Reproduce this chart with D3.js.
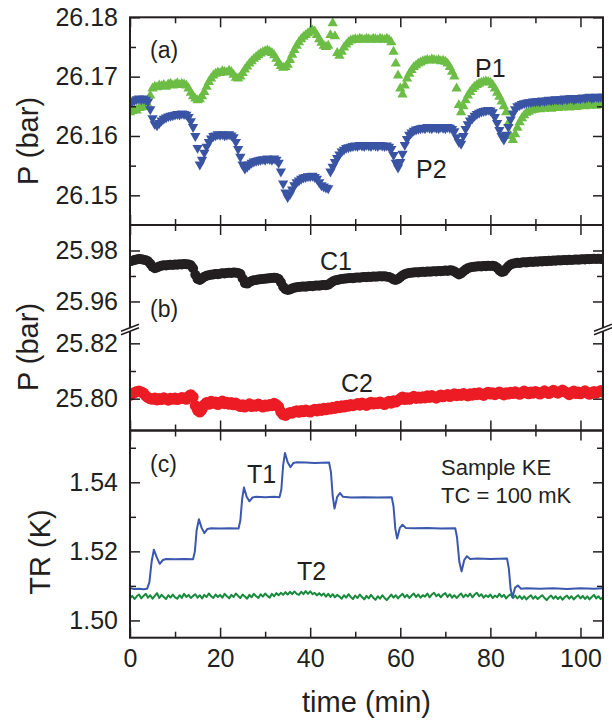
<!DOCTYPE html>
<html>
<head>
<meta charset="utf-8">
<script src="https://cdn.jsdelivr.net/npm/d3@7"></script>
<style>
  body { margin: 0; background: #fff; }
  svg { display: block; }
</style>
</head>
<body>
<script>
// ---- Data: samples every 0.5 min from 0 to 105 min (rows of 5 min) ----
const SAMPLE_STEP = 0.5;

// Panel (a): P1 pressure (bar)
const p1 = [
  26.1640, 26.1642, 26.1644, 26.1643, 26.1647, 26.1648, 26.1649, 26.1650, 26.1652, 26.1668, // 0
  26.1680, 26.1683, 26.1682, 26.1685, 26.1684, 26.1686, 26.1683, 26.1687, 26.1688, 26.1685, // 5
  26.1687, 26.1689, 26.1686, 26.1688, 26.1687, 26.1685, 26.1680, 26.1673, 26.1667, 26.1663, // 10
  26.1660, 26.1662, 26.1667, 26.1674, 26.1683, 26.1691, 26.1697, 26.1702, 26.1705, 26.1707, // 15
  26.1706, 26.1709, 26.1708, 26.1707, 26.1710, 26.1708, 26.1703, 26.1698, 26.1697, 26.1700, // 20
  26.1706, 26.1712, 26.1717, 26.1722, 26.1726, 26.1730, 26.1733, 26.1736, 26.1739, 26.1741, // 25
  26.1743, 26.1744, 26.1742, 26.1740, 26.1736, 26.1730, 26.1723, 26.1718, 26.1715, 26.1716, // 30
  26.1720, 26.1728, 26.1737, 26.1745, 26.1752, 26.1758, 26.1763, 26.1767, 26.1770, 26.1773, // 35
  26.1776, 26.1778, 26.1776, 26.1770, 26.1763, 26.1757, 26.1752, 26.1750, 26.1752, 26.1770, // 40
  26.1790, 26.1768, 26.1740, 26.1735, 26.1742, 26.1749, 26.1754, 26.1758, 26.1761, 26.1762, // 45
  26.1763, 26.1762, 26.1764, 26.1763, 26.1762, 26.1764, 26.1763, 26.1762, 26.1764, 26.1763, // 50
  26.1762, 26.1764, 26.1763, 26.1762, 26.1764, 26.1762, 26.1758, 26.1742, 26.1722, 26.1702, // 55
  26.1680, 26.1670, 26.1685, 26.1697, 26.1705, 26.1711, 26.1716, 26.1719, 26.1722, 26.1724, // 60
  26.1726, 26.1727, 26.1728, 26.1727, 26.1729, 26.1728, 26.1727, 26.1728, 26.1726, 26.1727, // 65
  26.1725, 26.1722, 26.1716, 26.1708, 26.1700, 26.1680, 26.1652, 26.1640, 26.1650, 26.1660, // 70
  26.1668, 26.1674, 26.1679, 26.1683, 26.1686, 26.1688, 26.1690, 26.1691, 26.1692, 26.1691, // 75
  26.1690, 26.1686, 26.1680, 26.1673, 26.1666, 26.1658, 26.1650, 26.1640, 26.1622, 26.1600, // 80
  26.1593, 26.1603, 26.1614, 26.1623, 26.1630, 26.1635, 26.1639, 26.1641, 26.1643, 26.1644, // 85
  26.1645, 26.1646, 26.1645, 26.1647, 26.1646, 26.1648, 26.1647, 26.1646, 26.1648, 26.1649, // 90
  26.1647, 26.1649, 26.1648, 26.1650, 26.1649, 26.1648, 26.1650, 26.1651, 26.1649, 26.1650, // 95
  26.1652, 26.1651, 26.1650, 26.1652, 26.1651, 26.1653, 26.1652, 26.1651, 26.1653, 26.1652, // 100
  26.1652
];

// Panel (a): P2 pressure (bar)
const p2 = [
  26.1655, 26.1658, 26.1660, 26.1662, 26.1663, 26.1662, 26.1663, 26.1661, 26.1658, 26.1645, // 0
  26.1630, 26.1620, 26.1618, 26.1622, 26.1626, 26.1629, 26.1631, 26.1633, 26.1634, 26.1635, // 5
  26.1636, 26.1637, 26.1636, 26.1638, 26.1637, 26.1636, 26.1632, 26.1625, 26.1615, 26.1600, // 10
  26.1580, 26.1552, 26.1560, 26.1572, 26.1582, 26.1590, 26.1596, 26.1600, 26.1601, 26.1603, // 15
  26.1602, 26.1603, 26.1601, 26.1602, 26.1603, 26.1601, 26.1598, 26.1590, 26.1578, 26.1565, // 20
  26.1552, 26.1545, 26.1548, 26.1552, 26.1555, 26.1557, 26.1558, 26.1559, 26.1560, 26.1561, // 25
  26.1560, 26.1562, 26.1561, 26.1560, 26.1562, 26.1560, 26.1555, 26.1540, 26.1520, 26.1505, // 30
  26.1497, 26.1502, 26.1510, 26.1517, 26.1522, 26.1525, 26.1528, 26.1530, 26.1531, 26.1532, // 35
  26.1532, 26.1533, 26.1531, 26.1528, 26.1522, 26.1517, 26.1515, 26.1513, 26.1512, 26.1540, // 40
  26.1548, 26.1556, 26.1563, 26.1569, 26.1574, 26.1577, 26.1580, 26.1581, 26.1582, 26.1583, // 45
  26.1584, 26.1583, 26.1585, 26.1584, 26.1583, 26.1585, 26.1584, 26.1583, 26.1585, 26.1584, // 50
  26.1583, 26.1585, 26.1584, 26.1583, 26.1584, 26.1582, 26.1578, 26.1568, 26.1555, 26.1547, // 55
  26.1556, 26.1570, 26.1585, 26.1595, 26.1602, 26.1606, 26.1609, 26.1611, 26.1612, 26.1613, // 60
  26.1614, 26.1613, 26.1615, 26.1614, 26.1613, 26.1615, 26.1614, 26.1613, 26.1615, 26.1614, // 65
  26.1613, 26.1615, 26.1614, 26.1612, 26.1608, 26.1598, 26.1590, 26.1587, 26.1600, 26.1612, // 70
  26.1620, 26.1626, 26.1630, 26.1634, 26.1637, 26.1639, 26.1641, 26.1642, 26.1643, 26.1644, // 75
  26.1643, 26.1640, 26.1632, 26.1622, 26.1610, 26.1600, 26.1594, 26.1602, 26.1615, 26.1628, // 80
  26.1638, 26.1645, 26.1650, 26.1652, 26.1654, 26.1655, 26.1656, 26.1657, 26.1657, 26.1658, // 85
  26.1658, 26.1659, 26.1658, 26.1660, 26.1659, 26.1660, 26.1661, 26.1660, 26.1661, 26.1662, // 90
  26.1661, 26.1662, 26.1661, 26.1663, 26.1662, 26.1663, 26.1664, 26.1662, 26.1663, 26.1664, // 95
  26.1663, 26.1665, 26.1664, 26.1665, 26.1666, 26.1664, 26.1665, 26.1666, 26.1665, 26.1666, // 100
  26.1666
];

// Panel (b): C1 pressure (bar), upper axis segment
const c1 = [
  25.9758, 25.9760, 25.9763, 25.9765, 25.9767, 25.9766, 25.9764, 25.9762, 25.9758, 25.9748, // 0
  25.9736, 25.9730, 25.9733, 25.9737, 25.9740, 25.9742, 25.9741, 25.9743, 25.9744, 25.9743, // 5
  25.9745, 25.9744, 25.9746, 25.9745, 25.9747, 25.9746, 25.9745, 25.9742, 25.9730, 25.9705, // 10
  25.9688, 25.9684, 25.9690, 25.9697, 25.9701, 25.9703, 25.9705, 25.9706, 25.9708, 25.9707, // 15
  25.9709, 25.9711, 25.9710, 25.9712, 25.9713, 25.9712, 25.9714, 25.9713, 25.9712, 25.9708, // 20
  25.9690, 25.9672, 25.9670, 25.9676, 25.9680, 25.9683, 25.9684, 25.9686, 25.9687, 25.9688, // 25
  25.9689, 25.9690, 25.9691, 25.9692, 25.9693, 25.9692, 25.9688, 25.9675, 25.9658, 25.9648, // 30
  25.9645, 25.9647, 25.9651, 25.9654, 25.9656, 25.9657, 25.9658, 25.9659, 25.9658, 25.9660, // 35
  25.9661, 25.9660, 25.9662, 25.9663, 25.9662, 25.9664, 25.9665, 25.9664, 25.9666, 25.9672, // 40
  25.9678, 25.9682, 25.9684, 25.9686, 25.9688, 25.9689, 25.9690, 25.9691, 25.9692, 25.9691, // 45
  25.9693, 25.9694, 25.9693, 25.9695, 25.9696, 25.9695, 25.9697, 25.9696, 25.9698, 25.9697, // 50
  25.9698, 25.9699, 25.9698, 25.9699, 25.9697, 25.9696, 25.9692, 25.9686, 25.9684, 25.9688, // 55
  25.9695, 25.9702, 25.9707, 25.9710, 25.9712, 25.9713, 25.9714, 25.9715, 25.9714, 25.9716, // 60
  25.9717, 25.9716, 25.9718, 25.9717, 25.9718, 25.9719, 25.9718, 25.9720, 25.9719, 25.9720, // 65
  25.9721, 25.9720, 25.9722, 25.9721, 25.9718, 25.9712, 25.9706, 25.9710, 25.9718, 25.9725, // 70
  25.9730, 25.9733, 25.9735, 25.9736, 25.9737, 25.9738, 25.9737, 25.9739, 25.9738, 25.9740, // 75
  25.9739, 25.9740, 25.9738, 25.9732, 25.9722, 25.9716, 25.9718, 25.9728, 25.9738, 25.9745, // 80
  25.9748, 25.9750, 25.9752, 25.9751, 25.9753, 25.9754, 25.9753, 25.9755, 25.9756, 25.9755, // 85
  25.9757, 25.9756, 25.9758, 25.9757, 25.9759, 25.9758, 25.9760, 25.9759, 25.9761, 25.9760, // 90
  25.9762, 25.9761, 25.9762, 25.9763, 25.9762, 25.9764, 25.9763, 25.9764, 25.9765, 25.9764, // 95
  25.9765, 25.9766, 25.9765, 25.9767, 25.9766, 25.9767, 25.9768, 25.9767, 25.9768, 25.9767, // 100
  25.9768
];

// Panel (b): C2 pressure (bar), lower axis segment
const c2 = [
  25.8012, 25.8018, 25.8022, 25.8026, 25.8027, 25.8024, 25.8020, 25.8010, 25.8004, 25.8000, // 0
  25.7998, 25.8002, 25.7996, 25.8000, 25.7997, 25.8003, 25.7999, 25.7995, 25.8001, 25.7998, // 5
  25.8002, 25.7997, 25.8000, 25.8004, 25.8001, 25.7998, 25.8008, 25.8014, 25.8006, 25.7975, // 10
  25.7958, 25.7952, 25.7962, 25.7978, 25.7986, 25.7980, 25.7990, 25.7984, 25.7988, 25.7979, // 15
  25.7985, 25.7991, 25.7982, 25.7987, 25.7980, 25.7986, 25.7978, 25.7984, 25.7976, 25.7972, // 20
  25.7978, 25.7970, 25.7975, 25.7981, 25.7972, 25.7977, 25.7973, 25.7980, 25.7974, 25.7970, // 25
  25.7977, 25.7973, 25.7979, 25.7975, 25.7983, 25.7978, 25.7970, 25.7952, 25.7943, 25.7940, // 30
  25.7945, 25.7950, 25.7948, 25.7953, 25.7956, 25.7951, 25.7957, 25.7953, 25.7959, 25.7955, // 35
  25.7952, 25.7958, 25.7961, 25.7956, 25.7962, 25.7958, 25.7965, 25.7960, 25.7966, 25.7963, // 40
  25.7969, 25.7965, 25.7972, 25.7968, 25.7974, 25.7970, 25.7976, 25.7973, 25.7979, 25.7975, // 45
  25.7978, 25.7982, 25.7977, 25.7984, 25.7980, 25.7976, 25.7983, 25.7987, 25.7981, 25.7985, // 50
  25.7982, 25.7988, 25.7984, 25.7979, 25.7986, 25.7990, 25.7984, 25.7992, 25.7988, 25.7994, // 55
  25.8000, 25.8006, 25.7997, 25.8003, 25.7998, 25.8004, 25.8008, 25.8001, 25.8006, 25.8002, // 60
  25.8007, 25.8003, 25.8010, 25.8005, 25.8011, 25.8006, 25.8002, 25.8009, 25.8013, 25.8007, // 65
  25.8011, 25.8015, 25.8008, 25.8013, 25.8017, 25.8011, 25.8016, 25.8012, 25.8018, 25.8014, // 70
  25.8010, 25.8017, 25.8013, 25.8019, 25.8015, 25.8021, 25.8016, 25.8012, 25.8019, 25.8023, // 75
  25.8017, 25.8021, 25.8015, 25.8020, 25.8024, 25.8018, 25.8014, 25.8021, 25.8017, 25.8023, // 80
  25.8019, 25.8025, 25.8020, 25.8016, 25.8022, 25.8027, 25.8021, 25.8018, 25.8024, 25.8020, // 85
  25.8026, 25.8021, 25.8017, 25.8023, 25.8028, 25.8022, 25.8019, 25.8025, 25.8030, 25.8024, // 90
  25.8020, 25.8026, 25.8031, 25.8025, 25.8021, 25.8015, 25.8022, 25.8027, 25.8019, 25.8024, // 95
  25.8018, 25.8023, 25.8028, 25.8021, 25.8016, 25.8022, 25.8026, 25.8020, 25.8025, 25.8029, // 100
  25.8024
];

// Panel (c): T2 temperature (K)
const t2 = [
  1.5064, 1.5071, 1.5062, 1.5070, 1.5075, 1.5064, 1.5071, 1.5077, 1.5066, 1.5073, // 0
  1.5063, 1.5071, 1.5079, 1.5065, 1.5074, 1.5068, 1.5062, 1.5073, 1.5066, 1.5075, // 5
  1.5067, 1.5063, 1.5073, 1.5065, 1.5077, 1.5068, 1.5074, 1.5065, 1.5071, 1.5076, // 10
  1.5066, 1.5073, 1.5064, 1.5074, 1.5068, 1.5078, 1.5070, 1.5065, 1.5075, 1.5068, // 15
  1.5074, 1.5066, 1.5077, 1.5070, 1.5064, 1.5074, 1.5068, 1.5078, 1.5071, 1.5065, // 20
  1.5075, 1.5069, 1.5063, 1.5074, 1.5067, 1.5077, 1.5070, 1.5065, 1.5076, 1.5069, // 25
  1.5078, 1.5071, 1.5066, 1.5077, 1.5070, 1.5079, 1.5073, 1.5080, 1.5074, 1.5082, // 30
  1.5075, 1.5083, 1.5076, 1.5084, 1.5077, 1.5074, 1.5083, 1.5076, 1.5085, 1.5077, // 35
  1.5084, 1.5076, 1.5080, 1.5073, 1.5079, 1.5072, 1.5078, 1.5069, 1.5077, 1.5068, // 40
  1.5076, 1.5067, 1.5074, 1.5069, 1.5063, 1.5073, 1.5066, 1.5076, 1.5068, 1.5062, // 45
  1.5072, 1.5065, 1.5075, 1.5068, 1.5061, 1.5071, 1.5064, 1.5074, 1.5066, 1.5060, // 50
  1.5070, 1.5063, 1.5073, 1.5065, 1.5059, 1.5067, 1.5075, 1.5066, 1.5073, 1.5064, // 55
  1.5071, 1.5077, 1.5067, 1.5074, 1.5065, 1.5072, 1.5078, 1.5068, 1.5075, 1.5066, // 60
  1.5073, 1.5069, 1.5078, 1.5067, 1.5075, 1.5080, 1.5070, 1.5076, 1.5067, 1.5075, // 65
  1.5079, 1.5068, 1.5076, 1.5066, 1.5073, 1.5065, 1.5072, 1.5078, 1.5067, 1.5075, // 70
  1.5069, 1.5078, 1.5067, 1.5075, 1.5080, 1.5070, 1.5076, 1.5066, 1.5073, 1.5068, // 75
  1.5075, 1.5065, 1.5072, 1.5067, 1.5077, 1.5068, 1.5074, 1.5064, 1.5071, 1.5076, // 80
  1.5065, 1.5072, 1.5064, 1.5071, 1.5062, 1.5070, 1.5061, 1.5068, 1.5073, 1.5063, // 85
  1.5070, 1.5062, 1.5068, 1.5073, 1.5065, 1.5059, 1.5067, 1.5072, 1.5063, 1.5070, // 90
  1.5062, 1.5069, 1.5060, 1.5067, 1.5072, 1.5063, 1.5070, 1.5061, 1.5068, 1.5073, // 95
  1.5064, 1.5071, 1.5062, 1.5070, 1.5061, 1.5068, 1.5074, 1.5064, 1.5070, 1.5062, // 100
  1.5067
];

// Panel (c): T1 temperature (K) at its own recorded times (min)
const t1Time = [
  0, 1, 2, 3, 3.8,
  4.3, 4.8, 5.3, 5.9, 6.6, 7.3, 8, 10, 12, 14,
  14.4, 14.8, 15.3, 15.9, 16.5, 17.2, 18, 20, 22, 24.1,
  24.5, 24.9, 25.3, 25.9, 26.5, 27.2, 28, 30, 32, 33.2,
  33.6, 34.0, 34.4, 35.0, 35.6, 36.3, 37, 39, 41, 44.2,
  44.6, 45.0, 45.4, 46.0, 46.6, 47.3, 49, 52, 55, 58.1,
  58.5, 58.9, 59.3, 59.9, 60.5, 61.2, 63, 66, 69, 72.2,
  72.6, 73.1, 73.6, 74.2, 74.8, 75.5, 77, 80, 83.7,
  84.1, 84.5, 84.9, 85.5, 86.1, 86.8, 88, 91, 94, 97, 100, 103, 105
];
const t1Value = [
  1.5093, 1.5091, 1.5092, 1.5090, 1.5092,
  1.5110, 1.5170, 1.5205, 1.5184, 1.5164, 1.5175, 1.5178, 1.5177, 1.5178, 1.5177,
  1.5200, 1.5262, 1.5293, 1.5268, 1.5253, 1.5265, 1.5267, 1.5266, 1.5267, 1.5266,
  1.5290, 1.5352, 1.5385, 1.5358, 1.5345, 1.5356, 1.5358, 1.5357, 1.5358, 1.5357,
  1.5380, 1.5450, 1.5485, 1.5458, 1.5444, 1.5456, 1.5458, 1.5457, 1.5456, 1.5457,
  1.5430, 1.5360, 1.5324, 1.5358, 1.5369, 1.5358, 1.5356, 1.5357, 1.5356, 1.5357,
  1.5330, 1.5265, 1.5237, 1.5268, 1.5277, 1.5268, 1.5267, 1.5268, 1.5266, 1.5267,
  1.5240, 1.5170, 1.5142, 1.5175, 1.5186, 1.5178, 1.5179, 1.5178, 1.5179,
  1.5150, 1.5090, 1.5068, 1.5095, 1.5101, 1.5092, 1.5093, 1.5092, 1.5093, 1.5091, 1.5093, 1.5092, 1.5093
];

// Axis ticks
const xMajor = [0, 20, 40, 60, 80, 100];
const xMinor = [10, 30, 50, 70, 90];
const aMajor = [26.15, 26.16, 26.17, 26.18];
const aMinor = [26.155, 26.165, 26.175];
const bUpperMajor = [25.96, 25.98];
const bUpperMinor = [25.97];
const bLowerMajor = [25.80, 25.82];
const bLowerMinor = [25.81];
const cMajor = [1.50, 1.52, 1.54];
const cMinor = [1.51, 1.53, 1.55];

// ---- Layout ----
const INK = '#231f20';
const FONT = '"Liberation Sans", Arial, Helvetica, sans-serif';
const COL = { p1: '#6cbd45', p2: '#3a54a4', c1: '#231f20', c2: '#ec1c24', t1: '#3a58ad', t2: '#178a3b' };

const X0 = 130, X1 = 603;
const PA = { top: 17.3, bottom: 225 };
const PB = { top: 225, split: 329.5, bottom: 430.5 };
const PC = { top: 430.5, bottom: 637.7 };

const x = d3.scaleLinear().domain([0, 105]).range([X0, X1]);
const yA = d3.scaleLinear().domain([26.145, 26.18]).range([PA.bottom, PA.top]);
const yBu = d3.scaleLinear().domain([25.949, 25.99]).range([PB.split, PB.top]);
const yBl = d3.scaleLinear().domain([25.7885, 25.825]).range([PB.bottom, PB.split]);
const yC = d3.scaleLinear().domain([1.495, 1.555]).range([PC.bottom, PC.top]);

const timeOf = (_, i) => i * SAMPLE_STEP;

const svg = d3.select('body').append('svg').attr('width', 612).attr('height', 720)
  .attr('font-family', FONT);

const defs = svg.append('defs');
function clip(id, top, bottom) {
  defs.append('clipPath').attr('id', id).append('rect')
    .attr('x', X0).attr('y', top).attr('width', X1 - X0).attr('height', bottom - top);
  return `url(#${id})`;
}
const clipA = clip('clip-a', PA.top, PA.bottom);
const clipBu = clip('clip-bu', PB.top, PB.split);
const clipBl = clip('clip-bl', PB.split, PB.bottom);
const clipC = clip('clip-c', PC.top, PC.bottom);

// ---- Panel (a): triangles ----
const tri = d3.symbol().type(d3.symbolTriangle).size(46);
function triangles(values, color, down) {
  svg.append('g').attr('clip-path', clipA).selectAll('path')
    .data(values).join('path')
    .attr('d', tri)
    .attr('fill', color)
    .attr('transform', (d, i) => `translate(${x(timeOf(d, i))},${yA(d)})${down ? ' rotate(180)' : ''}`);
}
triangles(p1, COL.p1, false);
triangles(p2, COL.p2, true);

// ---- Panel (b): circles on a broken axis ----
function dots(values, yScale, clipRef, color, r) {
  svg.append('g').attr('clip-path', clipRef).selectAll('circle')
    .data(values).join('circle')
    .attr('cx', (d, i) => x(timeOf(d, i)))
    .attr('cy', d => yScale(d))
    .attr('r', r)
    .attr('fill', color);
}
dots(c1, yBu, clipBu, COL.c1, 5);
dots(c2, yBl, clipBl, COL.c2, 5.6);

// ---- Panel (c): lines ----
const t1Line = d3.line().x((d, i) => x(t1Time[i])).y(d => yC(d));
const t2Line = d3.line().x((d, i) => x(timeOf(d, i))).y(d => yC(d));
const gC = svg.append('g').attr('clip-path', clipC);
gC.append('path').attr('d', t2Line(t2)).attr('fill', 'none')
  .attr('stroke', COL.t2).attr('stroke-width', 2).attr('stroke-linejoin', 'round');
gC.append('path').attr('d', t1Line(t1Value)).attr('fill', 'none')
  .attr('stroke', COL.t1).attr('stroke-width', 2).attr('stroke-linejoin', 'round');

// ---- Frames, ticks, labels ----
function axisLayer(axis, tx, ty) {
  const g = svg.append('g').attr('transform', `translate(${tx},${ty})`).call(axis)
    .attr('font-family', FONT).attr('font-size', 25).style('color', INK);
  g.select('.domain').remove();
  g.selectAll('.tick line').attr('stroke-width', 1.5);
  return g;
}
const noLabel = () => '';
function xEdges(top, bottom, withLabels) {
  axisLayer(d3.axisTop(x).tickValues(xMajor).tickSizeInner(-10).tickSizeOuter(0).tickFormat(noLabel), 0, top);
  axisLayer(d3.axisTop(x).tickValues(xMinor).tickSizeInner(-6).tickSizeOuter(0).tickFormat(noLabel), 0, top);
  axisLayer(d3.axisBottom(x).tickValues(xMajor).tickSizeInner(-10).tickSizeOuter(0).tickPadding(12)
    .tickFormat(withLabels ? d3.format('d') : noLabel), 0, bottom);
  axisLayer(d3.axisBottom(x).tickValues(xMinor).tickSizeInner(-6).tickSizeOuter(0).tickFormat(noLabel), 0, bottom);
}
function yEdges(scale, major, minor) {
  const fmt = d3.format('.2f');
  axisLayer(d3.axisLeft(scale).tickValues(major).tickSizeInner(-10).tickSizeOuter(0).tickPadding(12).tickFormat(fmt), X0, 0);
  axisLayer(d3.axisLeft(scale).tickValues(minor).tickSizeInner(-6).tickSizeOuter(0).tickFormat(noLabel), X0, 0);
  axisLayer(d3.axisRight(scale).tickValues(major).tickSizeInner(-10).tickSizeOuter(0).tickFormat(noLabel), X1, 0);
  axisLayer(d3.axisRight(scale).tickValues(minor).tickSizeInner(-6).tickSizeOuter(0).tickFormat(noLabel), X1, 0);
}
function frame(top, bottom) {
  svg.append('rect').attr('x', X0).attr('y', top).attr('width', X1 - X0).attr('height', bottom - top)
    .attr('fill', 'none').attr('stroke', INK).attr('stroke-width', 2);
}

frame(PA.top, PA.bottom);
frame(PB.top, PB.bottom);
frame(PC.top, PC.bottom);
xEdges(PA.top, PA.bottom, false);
xEdges(PB.top, PB.bottom, false);
xEdges(PC.top, PC.bottom, true);
yEdges(yA, aMajor, aMinor);
yEdges(yBu, bUpperMajor, bUpperMinor);
yEdges(yBl, bLowerMajor, bLowerMinor);
yEdges(yC, cMajor, cMinor);

// Axis-break marks on the panel (b) side frames
function breakMark(cx, cy) {
  const dx = 9, dy = 3.5, gap = 1.8;
  const l1 = [[cx - dx, cy - gap + dy], [cx + dx, cy - gap - dy]];
  const l2 = [[cx - dx, cy + gap + dy], [cx + dx, cy + gap - dy]];
  svg.append('polygon').attr('points', [l1[0], l1[1], l2[1], l2[0]].map(p => p.join(',')).join(' '))
    .attr('fill', '#fff');
  [l1, l2].forEach(l => svg.append('line')
    .attr('x1', l[0][0]).attr('y1', l[0][1]).attr('x2', l[1][0]).attr('y2', l[1][1])
    .attr('stroke', INK).attr('stroke-width', 1.5));
}
breakMark(X0, PB.split);
breakMark(X1, PB.split);

// Axis titles
function title(txt, cx, cy, rotate) {
  svg.append('text')
    .attr('transform', `translate(${cx},${cy})${rotate ? ' rotate(-90)' : ''}`)
    .attr('text-anchor', 'middle').attr('font-size', 29).attr('fill', INK).text(txt);
}
title('P (bar)', 38, 141, true);
title('P (bar)', 38, 347, true);
title('TR (K)', 50, 552, true);
title('time (min)', (X0 + X1) / 2, 712, false);

// In-plot annotations
function note(txt, px, py, size) {
  svg.append('text').attr('x', px).attr('y', py).attr('font-size', size).attr('fill', INK).text(txt);
}
note('(a)', 150, 58, 23);
note('(b)', 150, 317, 23);
note('(c)', 150, 472, 23);
note('P1', 475, 77, 25);
note('P2', 416, 178, 25);
note('C1', 320, 270, 25);
note('C2', 341, 392, 25);
note('T1', 247, 483, 25);
note('T2', 297, 580, 25);
note('Sample KE', 441, 475, 22);
note('TC = 100 mK', 441, 503, 22);
</script>
</body>
</html>
